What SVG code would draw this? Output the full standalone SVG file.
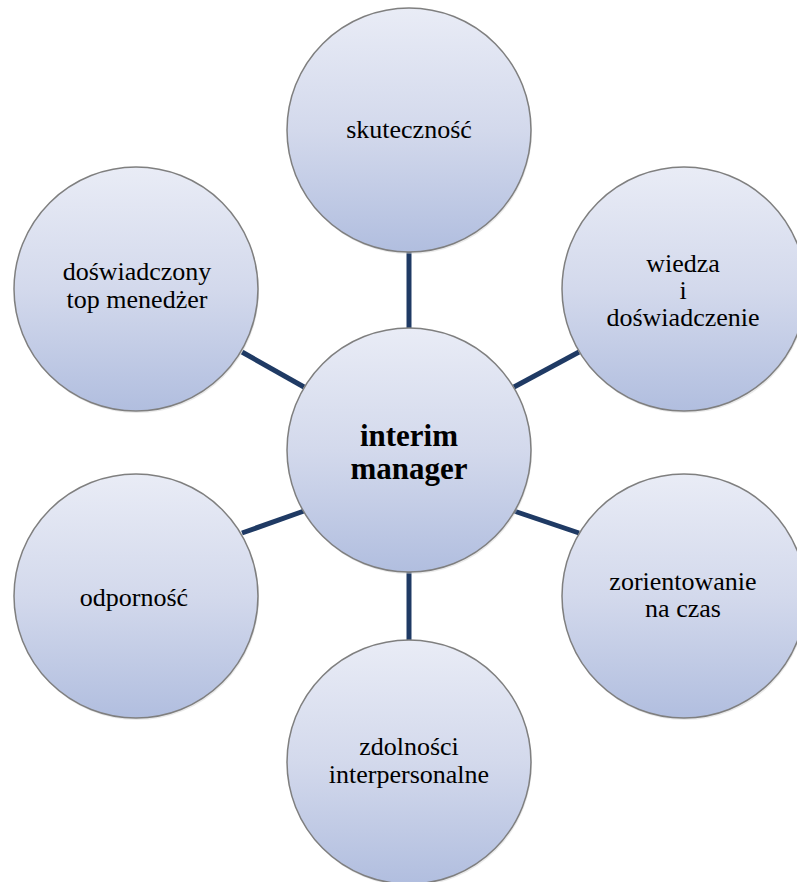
<svg xmlns="http://www.w3.org/2000/svg" width="797" height="882" viewBox="0 0 797 882">
<defs>
<linearGradient id="g" x1="0" y1="0" x2="0" y2="1">
<stop offset="0" stop-color="#e9ecf6"/>
<stop offset="0.5" stop-color="#d3d9ec"/>
<stop offset="1" stop-color="#b1bedf"/>
</linearGradient>
<style>
.c{fill:url(#g);stroke:#7f7f7f;stroke-width:1.5}
.s{fill:#cfcfcf;opacity:0.45}
.t{font-family:"Liberation Serif","Times New Roman",serif;font-size:26px;fill:#000;text-anchor:middle}
.b{font-family:"Liberation Serif","Times New Roman",serif;font-size:31px;font-weight:bold;fill:#000;text-anchor:middle}
.l{stroke:#1f3a64;stroke-width:5;fill:none}
</style>
</defs>
<rect width="797" height="882" fill="#fff"/>
<g id="connectors">
<line class="l" x1="409" y1="328" x2="409" y2="252"/>
<line class="l" x1="304" y1="387" x2="242" y2="352"/>
<line class="l" x1="514" y1="387" x2="579" y2="352"/>
<line class="l" x1="304" y1="511" x2="242" y2="533"/>
<line class="l" x1="514" y1="511" x2="579" y2="533"/>
<line class="l" x1="409" y1="572" x2="409" y2="640"/>
</g>
<g id="top">
<circle class="s" cx="410" cy="132" r="122"/>
<circle class="c" cx="409" cy="130" r="122"/>
<text class="t" x="409" y="138">skuteczność</text>
</g>
<g id="left-top">
<circle class="s" cx="137" cy="291" r="122"/>
<circle class="c" cx="136" cy="289" r="122"/>
<text class="t" x="137" y="280">doświadczony</text>
<text class="t" x="137" y="308">top menedżer</text>
</g>
<g id="right-top">
<circle class="s" cx="685" cy="291" r="122"/>
<circle class="c" cx="684" cy="289" r="122"/>
<text class="t" x="683" y="272">wiedza</text>
<text class="t" x="683" y="299">i</text>
<text class="t" x="683" y="326">doświadczenie</text>
</g>
<g id="left-bottom">
<circle class="s" cx="137" cy="598" r="122"/>
<circle class="c" cx="136" cy="596" r="122"/>
<text class="t" x="134" y="606">odporność</text>
</g>
<g id="right-bottom">
<circle class="s" cx="685" cy="598" r="122"/>
<circle class="c" cx="684" cy="596" r="122"/>
<text class="t" x="683" y="590">zorientowanie</text>
<text class="t" x="683" y="617">na czas</text>
</g>
<g id="bottom">
<circle class="s" cx="410" cy="764" r="122"/>
<circle class="c" cx="409" cy="762" r="122"/>
<text class="t" x="409" y="755">zdolności</text>
<text class="t" x="409" y="783">interpersonalne</text>
</g>
<g id="center">
<circle class="s" cx="410" cy="452" r="122"/>
<circle class="c" cx="409" cy="450" r="122"/>
<text class="b" x="409" y="446">interim</text>
<text class="b" x="409" y="479">manager</text>
</g>
</svg>
